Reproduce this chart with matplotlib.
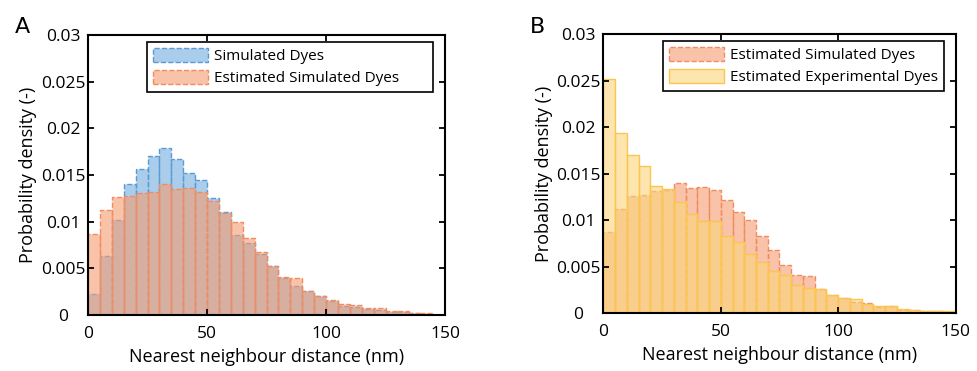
import matplotlib.pyplot as plt
import numpy as np

plt.rcParams["font.family"] = ["Open Sans", "DejaVu Sans"]

# bin edges (nm), 5 nm bins from 0 to 150
bin_edges = np.arange(0, 155, 5)

# probability density per bin
simulated = [
    0.0023, 0.0063, 0.0102, 0.0140, 0.0156, 0.0170, 0.0179, 0.0167, 0.0152, 0.0145,
    0.0125, 0.0110, 0.0086, 0.0077, 0.0065, 0.0052, 0.0040, 0.0031, 0.0026, 0.0020,
    0.0015, 0.0010, 0.0009, 0.0006, 0.0005, 0.0003, 0.0003, 0.0002, 0.0001, 0.0000,
]
estimated_sim = [
    0.0087, 0.0112, 0.0126, 0.0127, 0.0131, 0.0132, 0.0140, 0.0135, 0.0136, 0.0132,
    0.0122, 0.0109, 0.0100, 0.0083, 0.0068, 0.0052, 0.0041, 0.0040, 0.0026, 0.0020,
    0.0016, 0.0012, 0.0011, 0.0007, 0.0008, 0.0004, 0.0004, 0.0002, 0.0002, 0.0000,
]
estimated_exp = [
    0.0252, 0.0194, 0.0170, 0.0158, 0.0137, 0.0133, 0.0120, 0.0107, 0.0099, 0.0099,
    0.0083, 0.0077, 0.0064, 0.0055, 0.0045, 0.0041, 0.0030, 0.0027, 0.0026, 0.0020,
    0.0016, 0.0015, 0.0010, 0.0008, 0.0008, 0.0005, 0.0004, 0.0003, 0.0003, 0.0002,
]

x_ticks = [0, 50, 100, 150]
y_ticks = [0, 0.005, 0.01, 0.015, 0.02, 0.025, 0.03]
y_tick_labels = ["0", "0.005", "0.01", "0.015", "0.02", "0.025", "0.03"]

BLUE_FACE = (113 / 255, 172 / 255, 222 / 255, 0.6)
BLUE_EDGE = "#5b9bd5"
ORANGE_FACE = (245 / 255, 155 / 255, 113 / 255, 0.6)
ORANGE_EDGE = "#f28c60"
YELLOW_FACE = (250 / 255, 213 / 255, 122 / 255, 0.6)
YELLOW_EDGE = "#fcc64e"

# MATLAB-style legend in panel A leaves extra room on the right
PAD_A = "       "


def draw_hist(ax, heights, face, edge, ls, label):
    return ax.bar(bin_edges[:-1], heights, width=5, align="edge", facecolor=face,
                  edgecolor=edge, linewidth=1.0, linestyle=ls, label=label)


def style_axes(ax):
    ax.set_xlim(0, 150)
    ax.set_ylim(0, 0.03)
    ax.set_xticks(x_ticks)
    ax.set_yticks(y_ticks)
    ax.set_yticklabels(y_tick_labels)
    ax.tick_params(direction="in", top=True, right=True, length=4, width=1.3,
                   labelsize=12.5)
    ax.tick_params(axis="x", pad=8)
    ax.tick_params(axis="y", pad=18)
    for lab in ax.get_yticklabels():
        lab.set_horizontalalignment("center")
    for sp in ax.spines.values():
        sp.set_linewidth(1.5)
    ax.set_xlabel("Nearest neighbour distance (nm)", fontsize=13, labelpad=4)
    ax.set_ylabel("Probability density (-)", fontsize=13, labelpad=2.5)


def add_legend(ax, anchor):
    leg = ax.legend(loc="upper right", bbox_to_anchor=anchor, fontsize=11,
                    frameon=True, fancybox=False, edgecolor="black", framealpha=1,
                    handlelength=3.6, handleheight=1.0, handletextpad=0.35,
                    borderpad=0.4, labelspacing=0.38, borderaxespad=0)
    leg.get_frame().set_linewidth(1.2)


fig = plt.figure(figsize=(9.77, 3.71), dpi=100)
ax_a = fig.add_axes([0.0901, 0.1509, 0.3654, 0.7547])
ax_b = fig.add_axes([0.6175, 0.1555, 0.3607, 0.7529])

# Panel A
draw_hist(ax_a, simulated, BLUE_FACE, BLUE_EDGE, "--", "Simulated Dyes")
draw_hist(ax_a, estimated_sim, ORANGE_FACE, ORANGE_EDGE, "--",
          "Estimated Simulated Dyes" + PAD_A)
style_axes(ax_a)
add_legend(ax_a, (0.966, 0.975))

# Panel B
draw_hist(ax_b, estimated_sim, ORANGE_FACE, ORANGE_EDGE, "--", "Estimated Simulated Dyes")
draw_hist(ax_b, estimated_exp, YELLOW_FACE, YELLOW_EDGE, "-", "Estimated Experimental Dyes")
style_axes(ax_b)
add_legend(ax_b, (0.966, 0.975))

fig.text(15 / 977, 1 - 33 / 371, "A", fontsize=16, family="DejaVu Sans")
fig.text(530 / 977, 1 - 33 / 371, "B", fontsize=16, family="DejaVu Sans")

fig.savefig("out.png", dpi=100)
